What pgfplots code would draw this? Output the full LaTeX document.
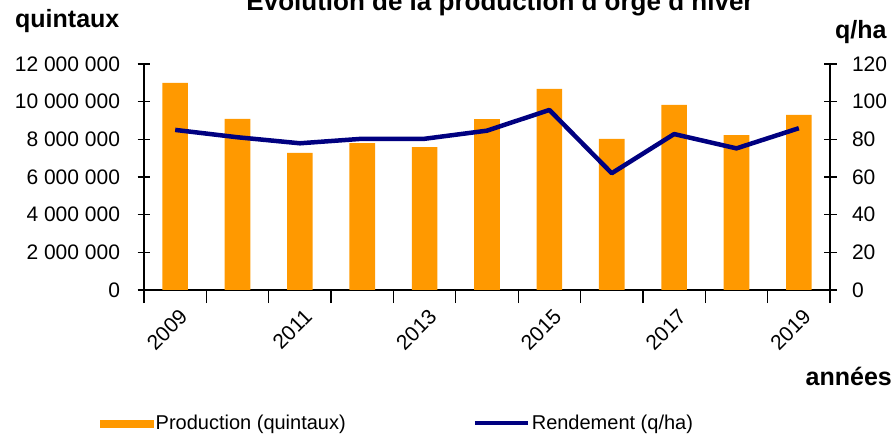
\documentclass[border=0pt]{standalone}
\usepackage{fontspec}
\setmainfont{Liberation Sans}
\usepackage{pgfplots}
\pgfplotsset{compat=1.18}
\definecolor{barorange}{RGB}{255,153,0}
\definecolor{navyline}{RGB}{0,0,128}
\newcommand{\lbl}{\fontsize{21}{25}\selectfont}
\newcommand{\leg}{\fontsize{20}{24}\selectfont}
\newcommand{\blbl}{\fontsize{25}{30}\selectfont\bfseries}
\begin{document}
\begin{tikzpicture}
\begin{axis}[
  at={(144pt,149pt)}, anchor=south west,
  scale only axis, width=686pt, height=226pt,
  xmin=-0.5, xmax=10.5, ymin=0, ymax=12000000,
  axis x line*=bottom, axis y line*=left,
  axis line style={line width=1.5pt, black},
  tick align=center,
  major tick length=13pt, minor tick length=13pt,
  tick style={black, line width=1.3pt},
  scaled y ticks=false,
  xtick={0,2,4,6,8,10},
  xticklabels={2009,2011,2013,2015,2017,2019},
  minor xtick={-0.5,0.5,...,10.5},
  major x tick style={draw=none},
  minor x tick style={black, line width=1.3pt},
  xticklabel style={font=\lbl, xshift=3pt, yshift=0pt, rotate=45, anchor=north east},
  ytick={0,2000000,4000000,6000000,8000000,10000000,12000000},
  yticklabels={0,2 000 000,4 000 000,6 000 000,8 000 000,10 000 000,12 000 000},
  yticklabel style={font=\lbl, xshift=-14pt},
  /pgf/number format/assume math mode=true,
  ybar, bar width=25.6pt,
]
\addplot[fill=barorange, draw=none] coordinates {
(0,11000000) (1,9080000) (2,7280000) (3,7800000) (4,7580000) (5,9070000)
(6,10680000) (7,8020000) (8,9830000) (9,8220000) (10,9300000)};
\end{axis}
\begin{axis}[
  at={(144pt,149pt)}, anchor=south west,
  scale only axis, width=686pt, height=226pt,
  xmin=-0.5, xmax=10.5, ymin=0, ymax=120,
  axis x line=none, axis y line*=right,
  axis line style={line width=1.5pt, black},
  tick align=center,
  major tick length=13pt,
  tick style={black, line width=1.3pt},
  ytick={0,20,40,60,80,100,120},
  yticklabel style={font=\lbl, xshift=12pt},
  /pgf/number format/assume math mode=true,
  legend columns=2,
  legend style={at={(-0.064,-0.59)}, anchor=west, draw=none, fill=none,
    font=\leg, inner sep=0pt,
    /tikz/every even column/.append style={column sep=125pt}},
  legend cell align=left,
]
\addlegendimage{legend image code/.code={\fill[barorange] (0pt,-3.5pt) rectangle (53pt,3.5pt);}}
\addlegendentry{Production (quintaux)}
\addplot[navyline, line width=4.5pt, line join=round,
  legend image code/.code={\draw[navyline, line width=4pt] (0pt,0pt) -- (53pt,0pt);}]
  coordinates {
(0,85.0) (1,81.1) (2,77.9) (3,80.3) (4,80.3) (5,84.6)
(6,95.6) (7,62.0) (8,82.8) (9,75.2) (10,85.9)};
\addlegendentry{Rendement (q/ha)}
\end{axis}
\node[font=\fontsize{26}{30}\selectfont\bfseries, anchor=base] at (500pt,428pt) {Evolution de la production d'orge d'hiver};
\node[font=\blbl, anchor=base west, inner sep=0pt] at (15pt,411pt) {quintaux};
\node[font=\blbl, anchor=base west, inner sep=0pt] at (835pt,400pt) {q/ha};
\node[font=\blbl, anchor=base east, inner sep=0pt] at (892pt,54pt) {années};
\pgfresetboundingbox
\useasboundingbox (0pt,0pt) rectangle (893pt,439pt);
\end{tikzpicture}
\end{document}
